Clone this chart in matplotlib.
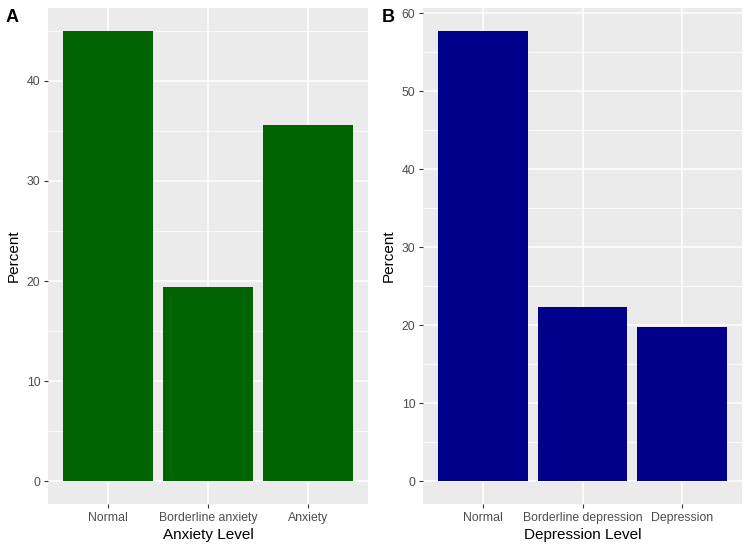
import matplotlib
matplotlib.use("Agg")
import matplotlib.pyplot as plt
import numpy as np

plt.rcParams['font.family'] = ['Liberation Sans', 'DejaVu Sans']

anx_cats = ["Normal", "Borderline anxiety", "Anxiety"]
anx_vals = [45.0, 19.4, 35.6]
dep_cats = ["Normal", "Borderline depression", "Depression"]
dep_vals = [57.8, 22.4, 19.8]

fig = plt.figure(figsize=(7.5, 5.51), dpi=100)
W, H = 750, 551

def panel(left, right, cats, vals, color, xlabel, major, tag, tagx):
    ax = fig.add_axes([left / W, 1 - 504 / H, (right - left) / W, (504 - 8) / H])
    ax.set_facecolor("#EBEBEB")
    x = np.arange(1, len(cats) + 1)
    vmax = max(vals)
    ax.set_ylim(-0.05 * vmax, vmax * 1.05)
    ax.set_xlim(0.4, len(cats) + 0.6)
    ax.set_yticks(major)
    ax.set_yticks([m + 5 for m in major[:-1]] + ([major[-1] + 5] if major[-1] + 5 < vmax * 1.05 else []), minor=True)
    ax.set_xticks(x)
    ax.set_xticklabels(cats)
    ax.grid(True, which="major", color="white", linewidth=1.1)
    ax.grid(True, which="minor", axis="y", color="white", linewidth=0.55)
    ax.set_axisbelow(True)
    ax.bar(x, vals, width=0.9, color=color, zorder=3)
    for s in ax.spines.values():
        s.set_visible(False)
    ax.tick_params(axis="both", which="major", length=3, width=0.8, color="#333333",
                   labelsize=8.8, labelcolor="#4D4D4D", pad=2.5)
    ax.tick_params(axis="y", which="minor", length=0)
    ax.set_xlabel(xlabel, fontsize=11, color="black", labelpad=3)
    ax.set_ylabel("Percent", fontsize=11, color="black", labelpad=4)
    fig.text(tagx / W, 1 - 18 / H, tag, fontsize=13, fontweight="bold", va="center", ha="left")
    return ax

panel(48, 368, anx_cats, anx_vals, "#006400", "Anxiety Level", [0, 10, 20, 30, 40], "A", 6)
panel(423, 742, dep_cats, dep_vals, "#00008B", "Depression Level", [0, 10, 20, 30, 40, 50, 60], "B", 382)

fig.savefig("out.png", dpi=100)
